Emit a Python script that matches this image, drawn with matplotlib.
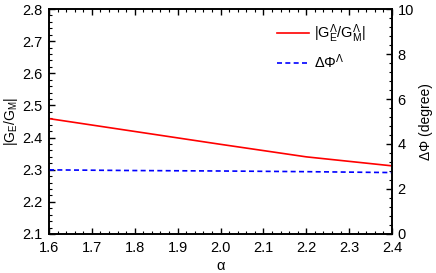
import numpy as np
import matplotlib.pyplot as plt
from matplotlib.ticker import MultipleLocator

plt.rcParams['font.family'] = ['Liberation Sans', 'DejaVu Sans']
plt.rcParams['mathtext.fontset'] = 'custom'
plt.rcParams['mathtext.rm'] = 'Liberation Sans'
plt.rcParams['mathtext.it'] = 'Liberation Sans'
plt.rcParams['font.size'] = 10.5

alpha = [1.6, 1.8, 2.0, 2.2, 2.4]
ratio = [2.459, 2.419, 2.379, 2.340, 2.312]
dphi = [2.85, 2.82, 2.80, 2.77, 2.73]

fig = plt.figure(figsize=(4.36, 2.73), dpi=100)
ax = fig.add_axes([0.1124, 0.1429, 0.7867, 0.8241])
ax2 = ax.twinx()

l1, = ax.plot(alpha, ratio, color='red', lw=1.2)
l2, = ax2.plot(alpha, dphi, color='blue', lw=1.2, ls=(0, (3, 2)))

ax.set_xlim(1.6, 2.4)
ax.set_ylim(2.1, 2.8)
ax2.set_ylim(0, 10)
ax.xaxis.set_major_locator(MultipleLocator(0.1))
ax.xaxis.set_minor_locator(MultipleLocator(0.02))
ax.yaxis.set_major_locator(MultipleLocator(0.1))
ax.yaxis.set_minor_locator(MultipleLocator(0.02))
ax2.yaxis.set_major_locator(MultipleLocator(2))
ax2.yaxis.set_minor_locator(MultipleLocator(0.4))
ax.xaxis.set_major_formatter(plt.FormatStrFormatter('%.1f'))
ax.yaxis.set_major_formatter(plt.FormatStrFormatter('%.1f'))

ax.tick_params(which='both', direction='in', top=True, right=False)
ax.tick_params(which='major', length=4, width=1)
ax.tick_params(which='minor', length=2, width=0.8)
ax.tick_params(axis='x', which='major', pad=5)
ax.tick_params(axis='y', which='major', pad=5)
ax2.tick_params(which='both', direction='in')
ax2.tick_params(which='major', length=4, width=1, pad=4)
ax2.tick_params(which='minor', length=2, width=0.8)
for s in ax.spines.values():
    s.set_linewidth(1.2)
for s in ax2.spines.values():
    s.set_linewidth(1.2)

ax.set_xlabel('α', labelpad=3)
ax.set_ylabel(r'$|\mathrm{G_E}/\mathrm{G_M}|$', labelpad=1, fontsize=10)
ax2.set_ylabel('ΔΦ (degree)', labelpad=4, fontsize=10)

ax.legend([l1, l2], [r'$|\mathrm{G}_\mathrm{E}^\Lambda/\mathrm{G}_\mathrm{M}^\Lambda|$', r'$\Delta\Phi^\Lambda$'],
          loc='upper left', frameon=False, handlelength=2.2, handletextpad=0.3,
          labelspacing=0.5, borderaxespad=0, borderpad=0,
          bbox_to_anchor=(0.665, 0.94))

fig.savefig('out.png', dpi=100)
